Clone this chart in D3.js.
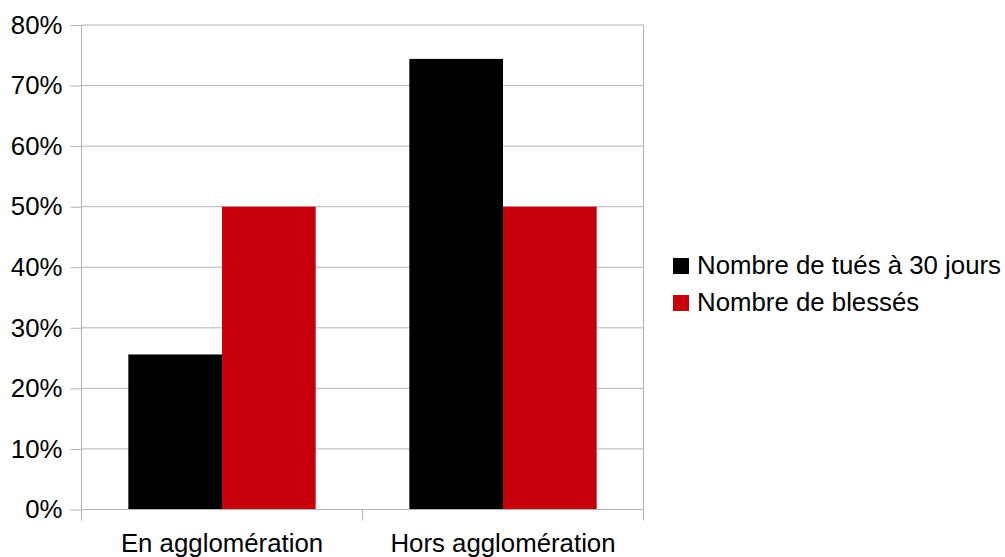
<!DOCTYPE html>
<html>
<head>
<meta charset="utf-8">
<script src="https://cdn.jsdelivr.net/npm/d3@7"></script>
<style>
  html, body { margin: 0; padding: 0; background: #fff; }
  svg { display: block; font-family: "Liberation Sans", Arial, sans-serif; }
</style>
</head>
<body>
<svg id="chart" width="1005" height="557"></svg>
<script>
// Share of road casualties, urban vs rural
const categories = ["En agglomération", "Hors agglomération"];
const seriesNames = ["Nombre de tués à 30 jours", "Nombre de blessés"];
const tues = [25.6, 74.4];
const blesses = [50, 50];
const yTicks = [0, 10, 20, 30, 40, 50, 60, 70, 80];
const colors = ["#000000", "#c5000b"];

const svg = d3.select("#chart");
const plot = { left: 81.5, right: 643.5, top: 25, bottom: 509.5 };
const fontSize = 25.8;

const x = d3.scaleBand().domain(categories).range([plot.left, plot.right]).paddingInner(0).paddingOuter(0);
const xs = d3.scaleBand().domain(seriesNames).range([0, x.bandwidth()]).paddingInner(0).paddingOuter(0.5);
const y = d3.scaleLinear().domain([0, 80]).range([plot.bottom, plot.top]);

// horizontal gridlines
svg.append("g")
  .selectAll("line")
  .data(yTicks)
  .join("line")
  .attr("x1", plot.left).attr("x2", plot.right)
  .attr("y1", d => y(d)).attr("y2", d => y(d))
  .attr("stroke", "#b3b3b3").attr("stroke-width", 1);

// right border of plot area
svg.append("line")
  .attr("x1", plot.right).attr("x2", plot.right)
  .attr("y1", plot.top).attr("y2", plot.bottom)
  .attr("stroke", "#b3b3b3");

// bars
const rows = categories.map((c, i) => ({ cat: c, values: [tues[i], blesses[i]] }));
const groups = svg.append("g").selectAll("g")
  .data(rows).join("g")
  .attr("transform", d => `translate(${x(d.cat)},0)`);
groups.selectAll("rect")
  .data(d => d.values.map((v, j) => ({ name: seriesNames[j], v, j })))
  .join("rect")
  .attr("x", d => xs(d.name))
  .attr("width", xs.bandwidth())
  .attr("y", d => y(d.v))
  .attr("height", d => y(0) - y(d.v))
  .attr("fill", d => colors[d.j]);

// y axis
const yAxis = svg.append("g")
  .attr("transform", `translate(${plot.left},0)`)
  .call(d3.axisLeft(y).tickValues(yTicks).tickFormat(d => d + "%").tickSize(11).tickPadding(8));
yAxis.select(".domain").attr("stroke", "#b3b3b3").attr("d", `M0,${plot.top}V${plot.bottom + 11}`);
yAxis.selectAll(".tick line").attr("stroke", "#b3b3b3");
yAxis.selectAll(".tick text")
  .attr("font-size", fontSize).attr("fill", "#000")
  .attr("font-family", "Liberation Sans, Arial, sans-serif");

// x axis with ticks at category boundaries
const xAxis = svg.append("g")
  .attr("transform", `translate(0,${plot.bottom})`);
xAxis.append("line")
  .attr("x1", plot.left).attr("x2", plot.right)
  .attr("stroke", "#b3b3b3");
const boundaries = [plot.left, x(categories[1]), plot.right];
xAxis.selectAll("line.sep")
  .data(boundaries).join("line").attr("class", "sep")
  .attr("x1", d => d).attr("x2", d => d)
  .attr("y1", 0).attr("y2", 11)
  .attr("stroke", "#b3b3b3");
xAxis.selectAll("text")
  .data(categories).join("text")
  .attr("x", d => x(d) + x.bandwidth() / 2)
  .attr("y", 42)
  .attr("text-anchor", "middle")
  .attr("font-size", fontSize)
  .attr("fill", "#000")
  .text(d => d);

// legend
const legend = svg.append("g").attr("transform", "translate(673,258)");
const items = legend.selectAll("g")
  .data(seriesNames).join("g")
  .attr("transform", (d, i) => `translate(0,${i * 37})`);
items.append("rect")
  .attr("width", 16).attr("height", 16)
  .attr("fill", (d, i) => colors[i]);
items.append("text")
  .attr("x", 24).attr("y", 16)
  .attr("font-size", fontSize)
  .attr("fill", "#000")
  .text(d => d);
</script>
</body>
</html>
